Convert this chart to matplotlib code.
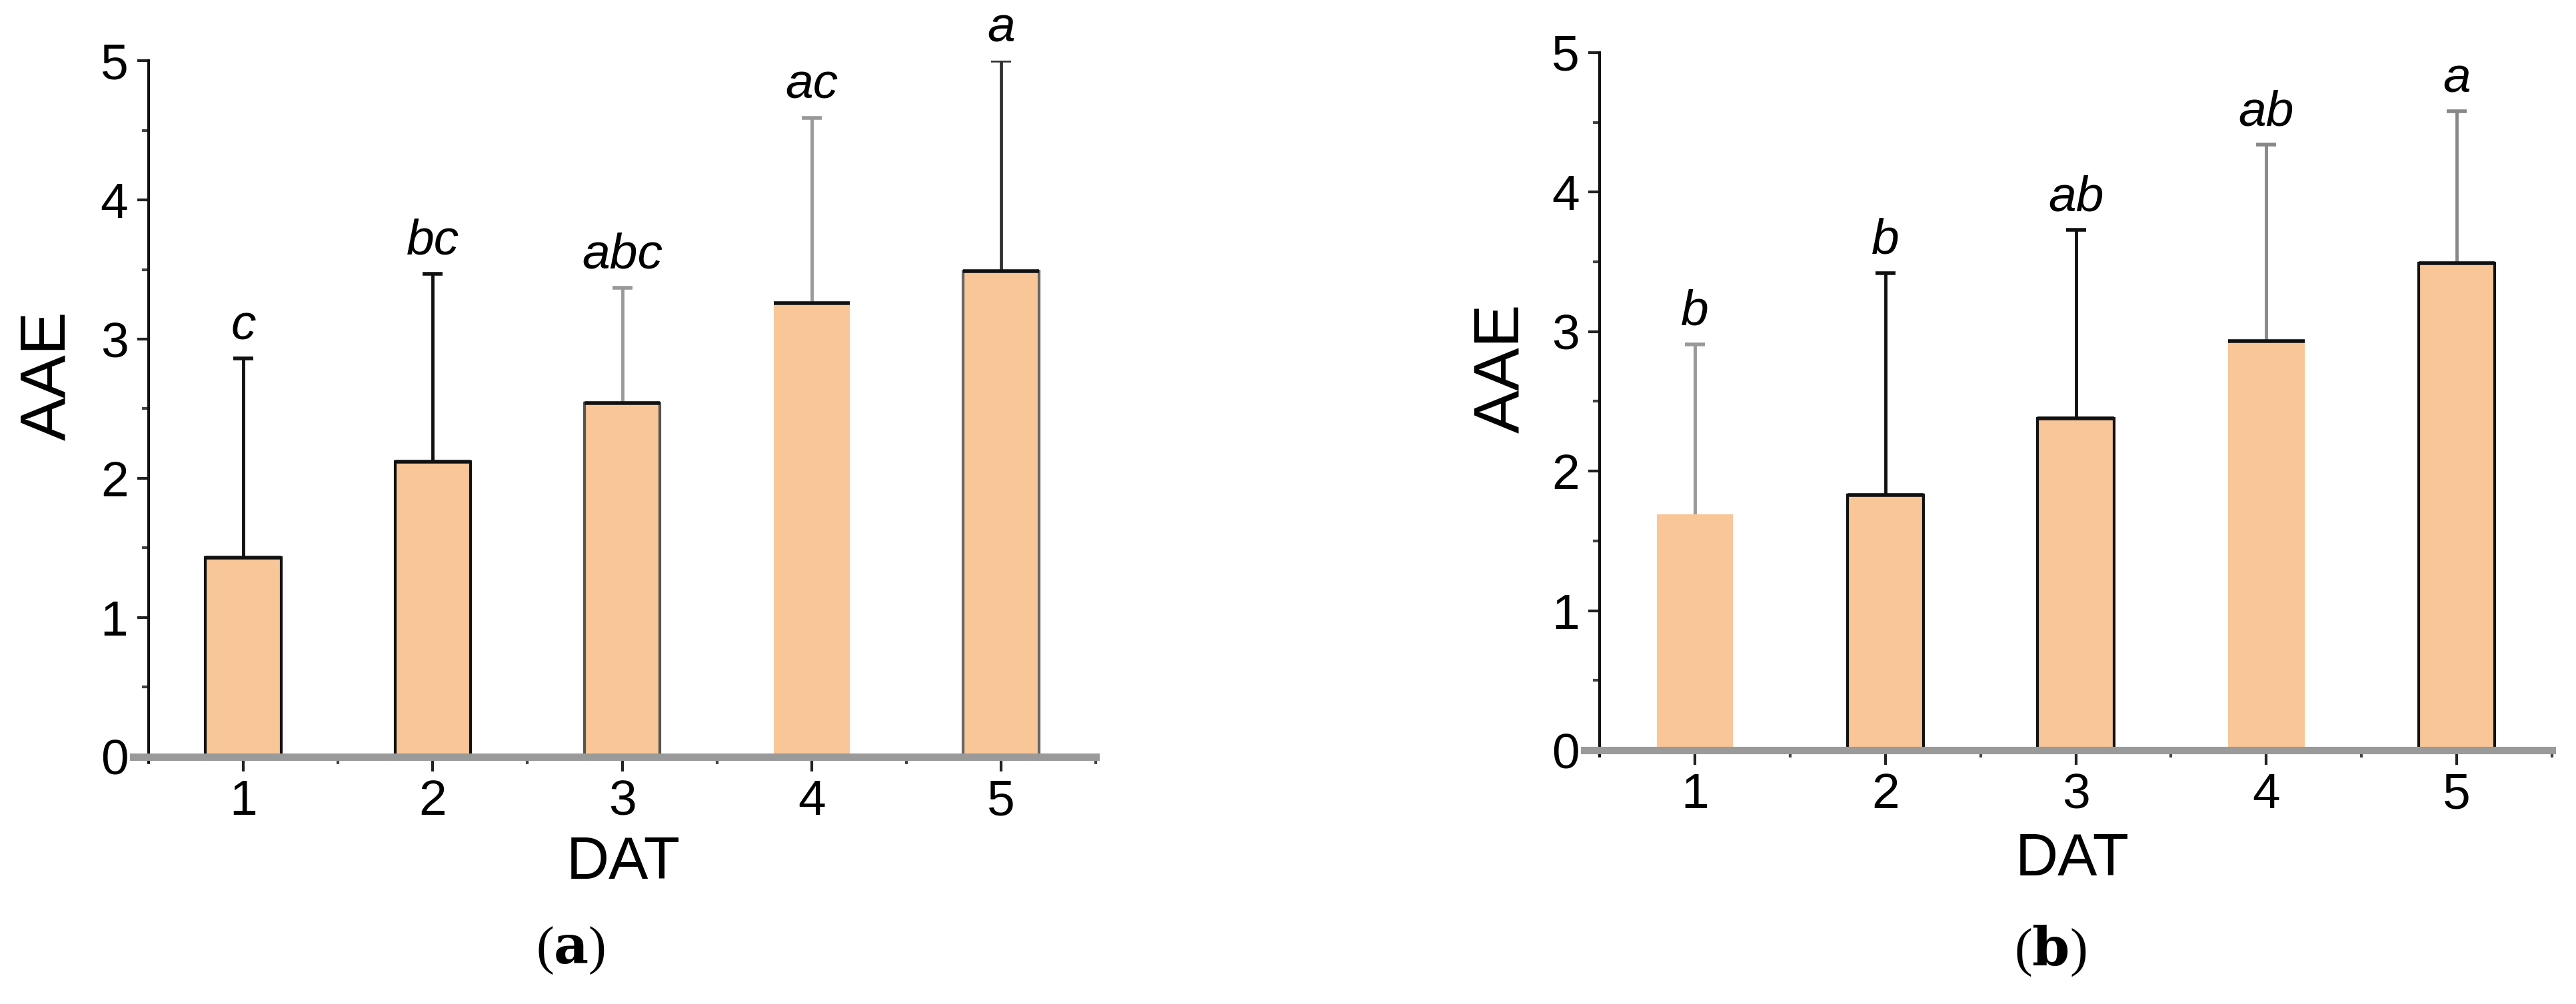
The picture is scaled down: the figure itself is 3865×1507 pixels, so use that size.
import matplotlib
matplotlib.use("Agg")
import matplotlib.pyplot as plt
import numpy as np
from matplotlib.ticker import MultipleLocator

plt.rcParams['font.family'] = ['Liberation Sans', 'DejaVu Sans']

# ---- data ----
dat = [1, 2, 3, 4, 5]
tick_labels = ['1', '2', '3', '4', '5']
aae_a = [1.43, 2.12, 2.54, 3.26, 3.49]
upper_a = [2.86, 3.47, 3.37, 4.59, 5.00]
letters_a = ['c', 'bc', 'abc', 'ac', 'a']
aae_b = [1.69, 1.83, 2.38, 2.93, 3.49]
upper_b = [2.91, 3.42, 3.73, 4.34, 4.58]
letters_b = ['b', 'b', 'ab', 'ab', 'a']

# styles (per bar, mimicking the reference rendering)
edge_a = ['#111111', '#111111', '#555555', 'none', '#666666']
edge_b = ['none', '#111111', '#111111', 'none', '#111111']
top_a = [True, True, True, True, True]
top_b = [False, True, True, True, True]
ecol_a = ['#111111', '#111111', '#999999', '#999999', '#333333']
ecol_b = ['#999999', '#111111', '#111111', '#888888', '#888888']

FILL = '#F8C697'
W = 0.4

fig = plt.figure(figsize=(38.65, 15.07), dpi=100)
axA = fig.add_axes([0.0577, 0.2462, 0.3677, 0.6934])
axB = fig.add_axes([0.6210, 0.2528, 0.3697, 0.6948])


def draw(ax, means, upper, letters, edges, tops, ecols):
    x = np.array(dat, dtype=float)
    means = np.array(means)
    upper = np.array(upper)
    for xi, m, ec in zip(x, means, edges):
        ax.bar(xi, m, width=W, color=FILL, edgecolor=ec, linewidth=3, zorder=2)
    for xi, m, t in zip(x, means, tops):
        if t:
            ax.hlines(m, xi - W / 2, xi + W / 2, colors='#111111', linewidth=4, zorder=3)
    for xi, m, u, c, lab in zip(x, means, upper, ecols, letters):
        cont = ax.errorbar(xi, m, yerr=[[0], [u - m]], fmt='none', ecolor=c,
                           elinewidth=3.5, capsize=11, capthick=4, zorder=1)
        caps = cont.lines[1]
        if len(caps) > 1:
            caps[0].set_visible(False)
        ax.annotate(lab, (xi, u), xytext=(0, 10), textcoords='offset points',
                    ha='center', va='bottom', fontsize=54, style='italic',
                    annotation_clip=False)
    ax.set_xlim(0.5, 5.5)
    ax.set_ylim(0, 5)
    ax.set_xticks(dat)
    ax.set_xticklabels(tick_labels)
    ax.xaxis.set_minor_locator(MultipleLocator(0.5))
    ax.set_yticks([0, 1, 2, 3, 4, 5])
    ax.yaxis.set_minor_locator(MultipleLocator(0.5))
    for s in ['top', 'right']:
        ax.spines[s].set_visible(False)
    ax.spines['left'].set_linewidth(3)
    ax.spines['left'].set_color('#111111')
    ax.spines['left'].set_bounds(-0.04, 5)
    ax.spines['bottom'].set_linewidth(8)
    ax.spines['bottom'].set_color('#9a9a9a')
    ax.spines['bottom'].set_zorder(4)
    ax.spines['bottom'].set_bounds(0.42, 5.5)
    ax.tick_params(axis='x', which='major', length=16, width=3, color='#222222',
                   labelsize=54, pad=8)
    ax.tick_params(axis='x', which='minor', length=8, width=3, color='#444444')
    ax.tick_params(axis='y', which='major', length=12, width=3, color='#222222',
                   labelsize=54, pad=10)
    ax.tick_params(axis='y', which='minor', length=7, width=3, color='#444444')


draw(axA, aae_a, upper_a, letters_a, edge_a, top_a, ecol_a)
draw(axB, aae_b, upper_b, letters_b, edge_b, top_b, ecol_b)

# axis labels
fig.text(0.0186, 0.626, 'AAE', rotation=90, ha='center', va='center', fontsize=70)
fig.text(0.583, 0.633, 'AAE', rotation=90, ha='center', va='center', fontsize=70)
fig.text(0.242, 0.140, 'DAT', ha='center', va='center', fontsize=64)
fig.text(0.8045, 0.143, 'DAT', ha='center', va='center', fontsize=64)

# panel labels
for xc, l in [(0.2215, 'a'), (0.796, 'b')]:
    fig.text(xc, 0.053, '(' + r'$\mathbf{' + l + '}$' + ')', ha='center', va='center',
             fontsize=58, family='Liberation Serif',
             math_fontfamily='dejavuserif')

fig.savefig('out.png', dpi=100, facecolor='white')
